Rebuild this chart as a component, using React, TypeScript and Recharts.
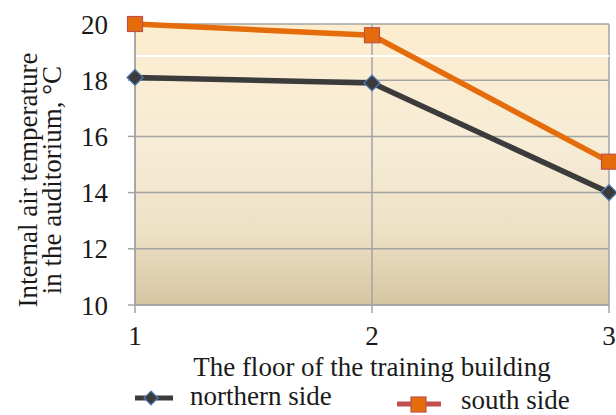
import React from 'react';
import { LineChart, Line, XAxis, YAxis, CartesianGrid, Legend, ReferenceLine } from 'recharts';

const floors = [1, 2, 3];
const northernSide = [18.1, 17.9, 14.0];
const southSide = [20.0, 19.6, 15.1];
const yTicks = [10, 12, 14, 16, 18, 20];

const data = floors.map((f, i) => ({ floor: f, north: northernSide[i], south: southSide[i] }));

const FONT = '"Liberation Serif", "Times New Roman", serif';
const TEXT = '#1a1a1a';
const FS = 27;

const Diamond = (props: any) => {
  const { cx, cy } = props;
  if (cx == null || cy == null) return null;
  const r = 8;
  return (
    <path
      d={`M${cx},${cy - r} L${cx + r},${cy} L${cx},${cy + r} L${cx - r},${cy} Z`}
      fill="#3b3b3b"
      stroke="#4f81bd"
      strokeWidth={1.2}
    />
  );
};

const Square = (props: any) => {
  const { cx, cy } = props;
  if (cx == null || cy == null) return null;
  const r = 7.5;
  return <rect x={cx - r} y={cy - r} width={2 * r} height={2 * r} fill="#e46c0a" stroke="#c0504d" strokeWidth={1.2} />;
};

const textStyle = { fontFamily: FONT, fontSize: FS, fill: TEXT } as const;

const LegendContent = () => (
  <svg width={616} height={45} style={{ display: 'block', overflow: 'visible' }}>
    <line x1={135} y1={28} x2={173} y2={28} stroke="#3b3b3b" strokeWidth={5} />
    <path d="M151,21 L158,28 L151,35 L144,28 Z" fill="#3b3b3b" stroke="#4f81bd" strokeWidth={1.2} />
    <line x1={397} y1={34} x2={441} y2={34} stroke="#c0504d" strokeWidth={5} />
    <rect x={411} y={27} width={15} height={15} fill="#e46c0a" stroke="#c0504d" strokeWidth={1.2} />
    <text x={190} y={35} style={textStyle}>northern side</text>
    <text x={461} y={39} style={textStyle}>south side</text>
  </svg>
);

const YLabel = () => {
  const cy = 180;
  return (
    <g>
      <text x={28} y={cy} transform={`rotate(-90, 28, ${cy})`} textAnchor="middle" dominantBaseline="central" style={textStyle}>
        Internal air temperature
      </text>
      <text x={52} y={cy} transform={`rotate(-90, 52, ${cy})`} textAnchor="middle" dominantBaseline="central" style={textStyle}>
        in the auditorium, °C
      </text>
    </g>
  );
};

const XLabel = (props: any) => {
  const vb = props.viewBox || {};
  return (
    <text x={vb.x + vb.width / 2} y={vb.y + 71} textAnchor="middle" style={textStyle}>
      The floor of the training building
    </text>
  );
};

export default function App() {
  return (
    <div style={{ position: 'absolute', left: 0, top: 0, width: 616, height: 415, background: '#fff', overflow: 'hidden' }}>
      <LineChart width={616} height={415} data={data} margin={{ top: 24, right: 7, bottom: 0, left: 0 }}>
        <defs>
          <linearGradient id="bgGrad" x1="0" y1="0" x2="0" y2="1">
            <stop offset="0%" stopColor="#fdedcf" />
            <stop offset="45%" stopColor="#f6ecd6" />
            <stop offset="75%" stopColor="#ece0c4" />
            <stop offset="100%" stopColor="#d6c5a2" />
          </linearGradient>
        </defs>
        <CartesianGrid fill="url(#bgGrad)" stroke="#a3a3a3" strokeWidth={1.5} />
        <ReferenceLine y={18.86} stroke="#ffffff" strokeWidth={2} ifOverflow="visible" />
        <XAxis
          dataKey="floor"
          type="number"
          domain={[1, 3]}
          ticks={floors}
          height={65}
          axisLine={{ stroke: '#a3a3a3', strokeWidth: 1.5 }}
          tickLine={{ stroke: '#a3a3a3', strokeWidth: 1.5 }}
          tickSize={8}
          tickMargin={13}
          tick={{ fontFamily: FONT, fontSize: FS, fill: TEXT }}
          interval={0}
          label={<XLabel />}
        />
        <YAxis
          domain={[10, 20]}
          ticks={yTicks}
          width={135}
          axisLine={{ stroke: '#a3a3a3', strokeWidth: 1.5 }}
          tickLine={{ stroke: '#a3a3a3', strokeWidth: 1.5 }}
          tickSize={7}
          tickMargin={20}
          tick={{ fontFamily: FONT, fontSize: FS, fill: TEXT }}
          label={<YLabel />}
        />
        <Line dataKey="north" stroke="#3b3b3b" strokeWidth={5.5} dot={<Diamond />} activeDot={false} isAnimationActive={false} />
        <Line dataKey="south" stroke="#e46c0a" strokeWidth={5.5} dot={<Square />} activeDot={false} isAnimationActive={false} />
        <Legend content={<LegendContent />} wrapperStyle={{ position: 'absolute', left: 0, top: 370, width: 616, height: 45 }} />
      </LineChart>
    </div>
  );
}
